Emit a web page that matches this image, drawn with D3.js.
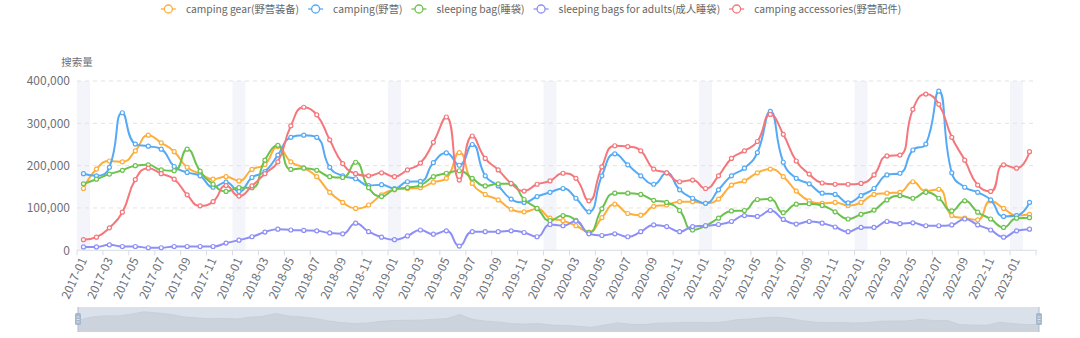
<!DOCTYPE html>
<html>
<head>
<meta charset="utf-8">
<script src="https://cdn.jsdelivr.net/npm/d3@7"></script>
<style>
  html, body { margin: 0; padding: 0; background: #fff; }
  svg { display: block; font-family: "Noto Sans CJK SC", "Noto Sans", sans-serif; }
</style>
</head>
<body>
<svg id="chart" width="1080" height="338"></svg>
<script>
// Monthly categories, 2017-01 .. 2023-02
const categories = [
  "2017-01","2017-02","2017-03","2017-04","2017-05","2017-06","2017-07","2017-08","2017-09","2017-10","2017-11","2017-12",
  "2018-01","2018-02","2018-03","2018-04","2018-05","2018-06","2018-07","2018-08","2018-09","2018-10","2018-11","2018-12",
  "2019-01","2019-02","2019-03","2019-04","2019-05","2019-06","2019-07","2019-08","2019-09","2019-10","2019-11","2019-12",
  "2020-01","2020-02","2020-03","2020-04","2020-05","2020-06","2020-07","2020-08","2020-09","2020-10","2020-11","2020-12",
  "2021-01","2021-02","2021-03","2021-04","2021-05","2021-06","2021-07","2021-08","2021-09","2021-10","2021-11","2021-12",
  "2022-01","2022-02","2022-03","2022-04","2022-05","2022-06","2022-07","2022-08","2022-09","2022-10","2022-11","2022-12",
  "2023-01","2023-02"
];

// Search volume per series
const campingGear = [
  146000,192000,211000,209000,235000,272000,254000,233000,196000,181000,168000,174000,
  164000,191000,203000,245000,209000,195000,174000,137000,113000,99000,107000,131000,
  143000,146000,148000,161000,170000,231000,158000,132000,119000,97000,91000,98000,
  76000,70000,58000,43000,77000,109000,87000,83000,104000,107000,115000,115000,
  111000,121000,154000,164000,183000,192000,174000,140000,117000,111000,113000,106000,
  113000,132000,135000,137000,162000,140000,144000,82000,76000,72000,117000,99000,
  82000,85000
];
const camping = [
  181000,176000,196000,325000,251000,246000,239000,198000,184000,176000,149000,161000,
  139000,172000,186000,225000,267000,272000,267000,196000,176000,169000,153000,155000,
  146000,162000,163000,207000,230000,201000,250000,176000,152000,121000,113000,127000,
  137000,146000,123000,91000,176000,228000,202000,176000,156000,183000,143000,123000,
  111000,143000,176000,194000,231000,328000,208000,170000,157000,135000,132000,112000,
  129000,146000,178000,182000,237000,251000,376000,183000,149000,137000,119000,80000,
  82000,113000
];
const sleepingBag = [
  157000,168000,180000,189000,200000,202000,190000,188000,239000,187000,156000,139000,
  148000,148000,213000,248000,191000,194000,189000,174000,172000,208000,148000,127000,
  144000,148000,154000,174000,182000,188000,170000,152000,157000,157000,120000,99000,
  70000,82000,71000,42000,98000,135000,135000,132000,118000,113000,94000,48000,
  58000,76000,93000,94000,120000,121000,89000,109000,110000,106000,91000,74000,
  85000,95000,119000,129000,123000,137000,123000,93000,117000,90000,74000,54000,
  76000,77000
];
const sleepingBagsAdults = [
  8000,8000,13000,9000,9000,6000,6000,9000,9000,9000,9000,17000,
  24000,32000,43000,50000,48000,47000,46000,41000,39000,64000,44000,31000,
  25000,34000,48000,38000,46000,10000,44000,44000,44000,46000,42000,32000,
  61000,58000,69000,39000,35000,39000,32000,44000,60000,56000,44000,56000,
  58000,61000,68000,82000,80000,94000,73000,62000,68000,64000,55000,44000,
  54000,54000,68000,63000,65000,58000,58000,60000,74000,60000,48000,31000,
  46000,50000
];
const campingAccessories = [
  25000,31000,53000,90000,167000,194000,181000,168000,131000,105000,115000,153000,
  128000,152000,181000,209000,294000,338000,320000,261000,205000,181000,176000,183000,
  174000,190000,206000,255000,315000,166000,270000,217000,190000,158000,140000,156000,
  164000,182000,170000,117000,197000,247000,245000,235000,192000,183000,162000,166000,
  146000,176000,217000,235000,257000,321000,274000,211000,180000,159000,156000,156000,
  158000,178000,223000,225000,333000,369000,345000,267000,213000,154000,139000,202000,
  194000,233000
];

const seriesNames = [
  "camping gear(野营装备)",
  "camping(野营)",
  "sleeping bag(睡袋)",
  "sleeping bags for adults(成人睡袋)",
  "camping accessories(野营配件)"
];
const seriesValues = [campingGear, camping, sleepingBag, sleepingBagsAdults, campingAccessories];
const seriesColors = ["#fdae3b", "#55aaf5", "#6cc24e", "#8d8ff6", "#f4777c"];

const yTicks = [0, 100000, 200000, 300000, 400000];
const yAxisName = "搜索量";

// ---- layout ----
const plot = { left: 77, right: 1036, top: 81, bottom: 250.3 };
const svg = d3.select("#chart");

const x = d3.scaleBand().domain(categories).range([plot.left, plot.right]).padding(0);
const xc = c => x(c) + x.bandwidth() / 2;
const y = d3.scaleLinear().domain([0, 400000]).range([plot.bottom, plot.top]);

// January highlight bands
svg.append("g").selectAll("rect")
  .data(categories.filter(c => c.endsWith("-01")))
  .join("rect")
  .attr("x", d => x(d)).attr("y", plot.top)
  .attr("width", x.bandwidth()).attr("height", plot.bottom - plot.top)
  .attr("fill", "#f3f5fa");

// horizontal dashed grid
svg.append("g").selectAll("line")
  .data(yTicks.filter(t => t > 0))
  .join("line")
  .attr("x1", plot.left).attr("x2", plot.right)
  .attr("y1", d => y(d)).attr("y2", d => y(d))
  .attr("stroke", "#e3e3e3").attr("stroke-dasharray", "4,4");

// y axis labels
const yAxis = svg.append("g")
  .attr("transform", `translate(${plot.left},0)`)
  .call(d3.axisLeft(y).tickValues(yTicks).tickFormat(d3.format(",")).tickSize(0).tickPadding(7));
yAxis.select(".domain").remove();
yAxis.selectAll("text").attr("fill", "#6e7079").attr("font-size", 12)
  .attr("font-family", '"Noto Sans CJK SC", sans-serif');

svg.append("text").attr("x", 77).attr("y", 66).attr("text-anchor", "middle")
  .attr("fill", "#6e7079").attr("font-size", 10.5).text(yAxisName);

// x axis: line, ticks at band edges every 2 months, rotated labels
const xAxisG = svg.append("g");
xAxisG.append("line").attr("x1", plot.left).attr("x2", plot.right + 1)
  .attr("y1", plot.bottom).attr("y2", plot.bottom).attr("stroke", "#d8dce6");
const tickIdx = d3.range(0, categories.length + 1, 2);
xAxisG.selectAll("line.tick").data(tickIdx).join("line").attr("class", "tick")
  .attr("x1", i => plot.left + i * x.bandwidth()).attr("x2", i => plot.left + i * x.bandwidth())
  .attr("y1", plot.bottom).attr("y2", plot.bottom + 5).attr("stroke", "#d8dce6");
xAxisG.selectAll("text").data(categories.filter((c, i) => i % 2 === 0)).join("text")
  .attr("transform", d => `translate(${xc(d)},${plot.bottom + 8}) rotate(-65)`)
  .attr("text-anchor", "end").attr("dy", "0.35em")
  .attr("fill", "#6e7079").attr("font-size", 12).text(d => d);

// smoothing curve: bezier control points clamped to each segment's box
function smoothCurve(context) {
  let pts;
  return {
    areaStart() {}, areaEnd() {},
    lineStart() { pts = []; },
    point(px, py) { pts.push([+px, +py]); },
    lineEnd() {
      const s = 0.5, n = pts.length;
      if (!n) return;
      let cpx0 = pts[0][0], cpy0 = pts[0][1];
      context.moveTo(cpx0, cpy0);
      for (let k = 1; k < n; k++) {
        const [px, py] = pts[k - 1];
        const [cx, cy] = pts[k];
        let cpx1, cpy1, ncx, ncy;
        if (k === n - 1) {
          cpx1 = cx; cpy1 = cy; ncx = cx; ncy = cy;
        } else {
          const [nx, ny] = pts[k + 1];
          let vx = nx - px, vy = ny - py;
          const lp = Math.hypot(cx - px, cy - py);
          const ln = Math.hypot(nx - cx, ny - cy);
          const r = ln / (ln + lp);
          ncx = cx + vx * s * r; ncy = cy + vy * s * r;
          ncx = Math.min(ncx, Math.max(nx, cx)); ncy = Math.min(ncy, Math.max(ny, cy));
          ncx = Math.max(ncx, Math.min(nx, cx)); ncy = Math.max(ncy, Math.min(ny, cy));
          vx = ncx - cx; vy = ncy - cy;
          cpx1 = cx - vx * lp / ln; cpy1 = cy - vy * lp / ln;
          cpx1 = Math.min(cpx1, Math.max(px, cx)); cpy1 = Math.min(cpy1, Math.max(py, cy));
          cpx1 = Math.max(cpx1, Math.min(px, cx)); cpy1 = Math.max(cpy1, Math.min(py, cy));
          vx = cx - cpx1; vy = cy - cpy1;
          ncx = cx + vx * ln / lp; ncy = cy + vy * ln / lp;
        }
        context.bezierCurveTo(cpx0, cpy0, cpx1, cpy1, cx, cy);
        cpx0 = ncx; cpy0 = ncy;
      }
    }
  };
}

const line = d3.line()
  .x((d, i) => xc(categories[i]))
  .y(d => y(d))
  .curve(smoothCurve);

const seriesG = svg.append("g").selectAll("g")
  .data(seriesValues.map((v, k) => ({ values: v, color: seriesColors[k] })))
  .join("g");
seriesG.append("path")
  .attr("d", d => line(d.values))
  .attr("fill", "none").attr("stroke", d => d.color).attr("stroke-width", 2);
seriesG.each(function (s) {
  d3.select(this).selectAll("circle").data(s.values).join("circle")
    .attr("cx", (d, i) => xc(categories[i])).attr("cy", d => y(d)).attr("r", 2)
    .attr("fill", "#fff").attr("stroke", s.color).attr("stroke-width", 1.2);
});

// legend
const legend = svg.append("g").attr("font-size", 10.3);
const items = legend.selectAll("g").data(seriesNames).join("g");
items.append("line").attr("x1", 0).attr("x2", 15).attr("y1", 0).attr("y2", 0)
  .attr("stroke", (d, i) => seriesColors[i]).attr("stroke-width", 1.3);
items.append("circle").attr("cx", 7.5).attr("cy", 0).attr("r", 4)
  .attr("fill", "#fff").attr("stroke", (d, i) => seriesColors[i]).attr("stroke-width", 1.3);
items.append("text").attr("x", 25).attr("dy", "0.35em").attr("fill", "#666").text(d => d);
const widths = [];
items.each(function () { widths.push(this.getBBox().width); });
const total = d3.sum(widths) + 9 * (widths.length - 1);
let lx = 531 - total / 2;
items.attr("transform", (d, i) => {
  const t = `translate(${lx},9)`;
  lx += widths[i] + 9;
  return t;
});

// slider with data shadow of the first series
const dz = { left: 78, right: 1039, top: 307, bottom: 332 };
svg.append("rect").attr("x", dz.left).attr("y", dz.top)
  .attr("width", dz.right - dz.left).attr("height", dz.bottom - dz.top)
  .attr("fill", "#dbe1ea");
const ext = d3.extent(campingGear);
const pad = (ext[1] - ext[0]) * 0.3;
const dzx = d3.scaleLinear().domain([0, categories.length - 1]).range([dz.left, dz.right]);
const dzy = d3.scaleLinear().domain([ext[0] - pad, ext[1] + pad]).range([dz.bottom, dz.top]);
svg.append("path")
  .attr("d", d3.area().x((d, i) => dzx(i)).y0(dz.bottom).y1(d => dzy(d))(campingGear))
  .attr("fill", "#ccd3dd");
svg.append("path")
  .attr("d", d3.line().x((d, i) => dzx(i)).y(d => dzy(d))(campingGear))
  .attr("fill", "none").attr("stroke", "#c6cdd8").attr("stroke-width", 0.8);
[dz.left, dz.right].forEach(hx => {
  svg.append("line").attr("x1", hx).attr("x2", hx).attr("y1", dz.top).attr("y2", dz.bottom)
    .attr("stroke", "#aebcd0").attr("stroke-width", 1);
  svg.append("rect").attr("x", hx - 3).attr("y", 313).attr("width", 6).attr("height", 12)
    .attr("rx", 1.5).attr("fill", "#a7b7cc");
  [317, 319.5, 322].forEach(gy => {
    svg.append("line").attr("x1", hx - 1.5).attr("x2", hx + 1.5).attr("y1", gy).attr("y2", gy)
      .attr("stroke", "#e8edf4").attr("stroke-width", 0.8);
  });
});
</script>
</body>
</html>
